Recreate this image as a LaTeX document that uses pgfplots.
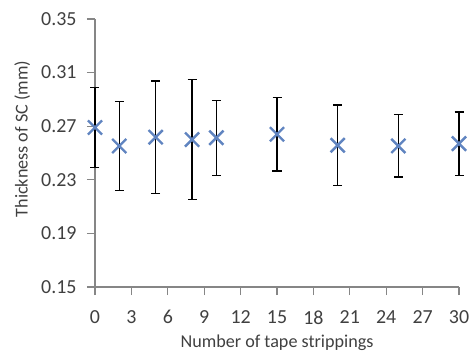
\documentclass[border=0pt]{standalone}
\usepackage{pgfplots}
\pgfplotsset{compat=1.18}
\usepackage{fontspec}
\setmainfont{Carlito}

\definecolor{axisgrey}{RGB}{134,134,134}
\definecolor{textgrey}{RGB}{64,64,64}
\definecolor{markblue}{RGB}{96,132,192}

% number of strippings, mean thickness, standard deviation
\pgfplotstableread{
x    y       err
0    0.2690  0.0300
2    0.2552  0.0330
5    0.2618  0.0420
8    0.2600  0.0449
10   0.2614  0.0280
15   0.2640  0.0275
20   0.2558  0.0300
25   0.2553  0.0232
30   0.2570  0.0237
}\thickness

\begin{document}
\begin{tikzpicture}
\begin{axis}[
  scale only axis,
  width=364bp, height=268bp,
  xmin=0, xmax=30, ymin=0.15, ymax=0.35,
  xtick={0,3,...,30},
  ytick={0.15,0.19,0.23,0.27,0.31,0.35},
  axis lines*=left,
  axis line style={axisgrey, line width=1.2bp},
  tick style={axisgrey, line width=1.2bp},
  tick align=outside,
  major tick length=8bp,
  /pgf/number format/assume math mode=true,
  ticklabel style={font=\fontsize{20}{24}\selectfont, text=textgrey},
  xticklabel style={yshift=-12bp},
  yticklabel style={xshift=-7bp,
    /pgf/number format/fixed, /pgf/number format/fixed zerofill,
    /pgf/number format/precision=2},
  label style={font=\fontsize{18.2}{22}\selectfont, text=textgrey},
  xlabel={Number of tape strippings},
  ylabel={Thickness of SC (mm)},
  xlabel style={at={(axis description cs:0.5,-0.2276)}, anchor=base},
  ylabel style={at={(axis description cs:-0.2,0.552)}, anchor=center},
  clip=false,
]
\addplot[
  only marks,
  mark=x, mark size=10bp,
  mark options={markblue, line width=2.4bp},
  error bars/.cd,
    y dir=both, y explicit,
    error bar style={black, line width=1.3bp},
    error mark options={black, rotate=90, mark size=4.5bp, line width=1.3bp},
] table[x=x, y=y, y error=err] {\thickness};
\end{axis}
\pgfresetboundingbox
\path[use as bounding box] (-95bp,-72bp) rectangle (378bp,287bp);
\end{tikzpicture}
\end{document}
